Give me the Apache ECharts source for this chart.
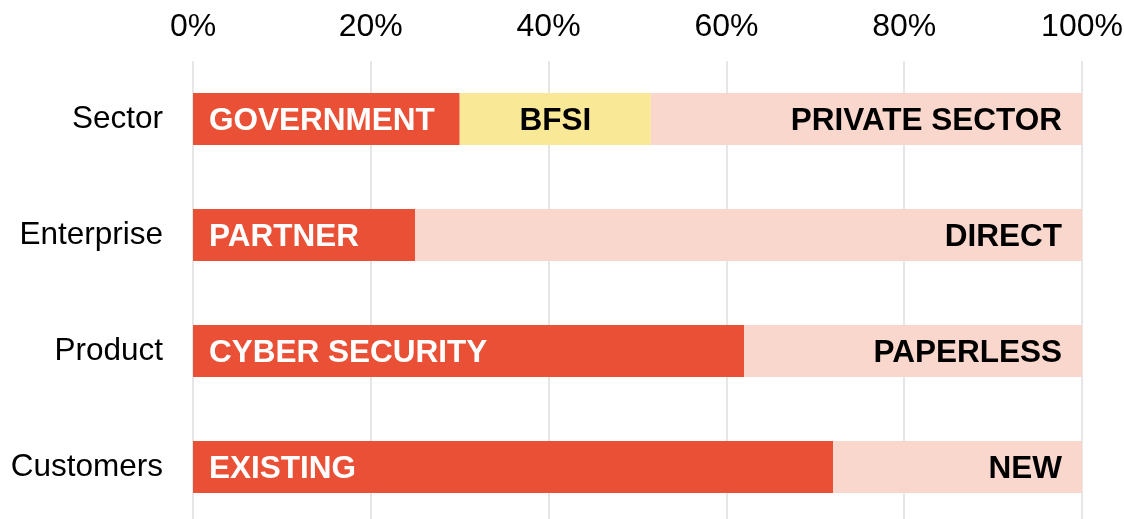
<!DOCTYPE html>
<html lang="en">
<head>
	<meta charset="UTF-8">
	<title>Echarts</title>
	<script src="https://cdn.jsdelivr.net/npm/echarts@6/dist/echarts.min.js"></script>
	<style>
		html, body { margin: 0; padding: 0; background: #fff; }
	</style>
</head>
<body>
	<div id="main" style="width: 1124px; height: 519px;"></div>
	<script type="text/javascript">
	var categories = ['Sector', 'Enterprise', 'Product', 'Customers'];
	var firstShare = [30, 25, 62, 72];
	var midShare = [21.5, 0, 0, 0];
	var lastShare = [48.5, 75, 38, 28];
	var firstLabels = ['GOVERNMENT', 'PARTNER', 'CYBER SECURITY', 'EXISTING'];
	var midLabels = ['BFSI', '', '', ''];
	var lastLabels = ['PRIVATE SECTOR', 'DIRECT', 'PAPERLESS', 'NEW'];
	var tickValues = [0, 20, 40, 60, 80, 100];

	var font = 'Liberation Sans, Arial, sans-serif';

	function barLabel(names, pos, color, dist) {
		return {
			show: true,
			position: pos,
			distance: dist,
			offset: [0, 2],
			color: color,
			fontFamily: font,
			fontWeight: 'bold',
			fontSize: 31.5,
			formatter: function (p) { return names[p.dataIndex]; }
		};
	}

	var option = {
		animation: false,
		grid: { left: 193, right: 42, top: 61, bottom: -6, outerBoundsMode: 'none', containLabel: false },
		xAxis: {
			type: 'value',
			position: 'top',
			min: tickValues[0],
			max: tickValues[tickValues.length - 1],
			interval: 20,
			axisLine: { show: false },
			axisTick: { show: false },
			axisLabel: {
				margin: 18,
				fontSize: 32,
				fontFamily: font,
				color: '#000',
				formatter: '{value}%'
			},
			splitLine: { lineStyle: { color: '#e6e6e6', width: 2 } }
		},
		yAxis: {
			type: 'category',
			inverse: true,
			data: categories,
			axisLine: { show: false },
			axisTick: { show: false },
			axisLabel: {
				margin: 30,
				padding: [0, 0, -4, 0],
				fontSize: 31.5,
				fontFamily: font,
				color: '#000'
			}
		},
		series: [
			{
				type: 'bar',
				stack: 'a',
				barWidth: 52,
				itemStyle: { color: '#EA5035' },
				label: barLabel(firstLabels, 'insideLeft', '#fff', 16),
				data: firstShare
			},
			{
				type: 'bar',
				stack: 'a',
				barWidth: 52,
				itemStyle: { color: '#F9E895' },
				label: barLabel(midLabels, 'inside', '#000', 0),
				data: midShare
			},
			{
				type: 'bar',
				stack: 'a',
				barWidth: 52,
				itemStyle: { color: '#FAD7CD' },
				label: barLabel(lastLabels, 'insideRight', '#000', 20),
				data: lastShare
			}
		]
	};
	var chart = echarts.init(document.getElementById('main'));
	chart.setOption(option);
	</script>
</body>
</html>
